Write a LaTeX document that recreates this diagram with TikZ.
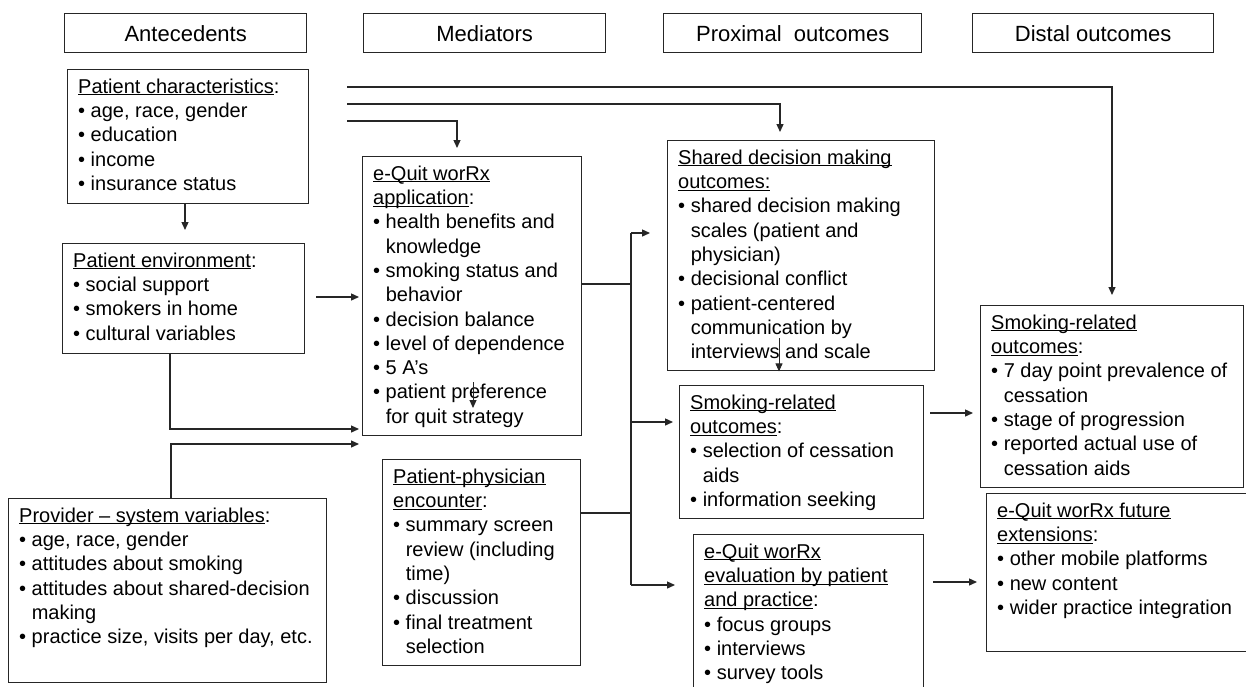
\documentclass[tikz,border=0pt]{standalone}
\usepackage{fontspec}
\setmainfont{Liberation Sans}
\usetikzlibrary{arrows.meta,calc}
\newcommand{\ct}{\phantom{•\ }}
\newcommand{\ul}[1]{\underline{\smash{#1}}}
\newcommand{\mkbox}[6]{%
  \node[boxst, minimum width=#4pt, minimum height=#5pt] (#1) at (#2,#3) {};
  \node[txtst] (#1t) at ($(#1.north west)+(11,7)$) {\strut#6};}
\begin{document}
\begin{tikzpicture}[x=1pt,y=-1pt,
  boxst/.style={draw=black!85, line width=1.4pt, anchor=north west, inner sep=0pt, fill=white},
  hdrst/.style={draw=black!85, line width=1.4pt, anchor=north west, inner sep=0pt,
     font=\fontsize{22}{26}\selectfont},
  txtst/.style={anchor=north west, inner sep=0pt, align=left, font=\fontsize{20}{24.3}\selectfont},
  arr/.style={draw=black!85, line width=1.3pt, -{Triangle[length=8pt,width=7pt]}},
  ln/.style={draw=black!85, line width=1.3pt}]
\useasboundingbox (0,0) rectangle (1246,686);
\clip (0,0) rectangle (1246,686);
\fill[white] (0,0) rectangle (1246,686);

% headers
\node[hdrst, minimum width=242pt, minimum height=39pt] (h1) at (64,13) {Antecedents};
\node[hdrst, minimum width=242pt, minimum height=39pt] (h2) at (363,13) {Mediators};
\node[hdrst, minimum width=258pt, minimum height=39pt] (h3) at (663,13) {Proximal\ \ outcomes};
\node[hdrst, minimum width=241pt, minimum height=39pt] (h4) at (972,13) {Distal outcomes};

% boxes
\mkbox{pc}{67}{69}{241}{134}{\ul{Patient characteristics}:\\
• age, race, gender\\ • education\\ • income\\ • insurance status}
\mkbox{pe}{62}{243}{242}{110}{\ul{Patient environment}:\\
• social support\\ • smokers in home\\ • cultural variables}
\mkbox{pv}{8}{498}{318}{184}{\ul{Provider -- system variables}:\\
• age, race, gender\\ • attitudes about smoking\\ • attitudes about shared-decision\\
\ct making\\ • practice size, visits per day, etc.}
\mkbox{eq}{362}{156}{219}{279}{\ul{e-Quit worRx}\\ \ul{application}:\\
• health benefits and\\ \ct knowledge\\ • smoking status and\\ \ct behavior\\
• decision balance\\ • level of dependence\\ • 5 A’s\\ • patient preference\\ \ct for quit strategy}
\mkbox{pp}{382}{459}{198}{206}{\ul{Patient-physician}\\ \ul{encounter}:\\
• summary screen\\ \ct review (including\\ \ct time)\\ • discussion\\ • final treatment\\ \ct selection}
\mkbox{sd}{667}{140}{267}{230}{\ul{Shared decision making}\\ \ul{outcomes:}\\
• shared decision making\\ \ct scales (patient and\\ \ct physician)\\ • decisional conflict\\
• patient-centered\\ \ct communication by\\ \ct interviews and scale}
\mkbox{sp}{679}{385}{244}{133}{\ul{Smoking-related}\\ \ul{outcomes}:\\
• selection of cessation\\ \ct aids\\ • information seeking}
\mkbox{ev}{693}{534}{230}{170}{\ul{e-Quit worRx}\\ \ul{evaluation by patient}\\ \ul{and practice}:\\
• focus groups\\ • interviews\\ • survey tools}
\mkbox{ds}{980}{305}{263}{182}{\ul{Smoking-related}\\ \ul{outcomes}:\\
• 7 day point prevalence of\\ \ct cessation\\ • stage of progression\\ • reported actual use of\\ \ct cessation aids}
\mkbox{fx}{986}{493}{270}{158}{\ul{e-Quit worRx future}\\ \ul{extensions}:\\
• other mobile platforms\\ • new content\\ • wider practice integration}

% free ends
\coordinate (s1) at (347,87);
\coordinate (s2) at (347,104);
\coordinate (s3) at (347,121);
\coordinate (s4) at (316,297);
\coordinate (e7) at (359,444);
\coordinate (bt) at (631,233);
\coordinate (bb) at (631,585);
\coordinate (s14) at (930,413);
\coordinate (s15) at (933,582);
\coordinate (a1) at (473,382);
\coordinate (a2) at (779,338);

% connectors
\draw[arr, shorten >=13pt] (pc.south -| 185,0) -- (pe.north -| 185,0);
\draw[arr, shorten >=10pt] (s1) -| (ds.north -| 1112,0);
\draw[arr, shorten >=8pt] (s2) -| (sd.north -| 780,0);
\draw[arr, shorten >=8pt] (s3) -| (eq.north -| 457,0);
\draw[arr, shorten >=3pt] (s4) -- (eq.west |- s4);
\draw[arr, shorten >=3pt] (pe.south -| 170,0) |- (eq.west |- 0,429);
\draw[arr] (pv.north -| 171,0) |- (e7);
\draw[ln] (eq.east |- 0,284) -- (631,284);
\draw[ln] (pp.east |- 0,513) -- (631,513);
\draw[ln] (bt) -- (bb);
\draw[arr, shorten >=17pt] (bt) -- (sd.west |- bt);
\draw[arr, shorten >=6pt] (631,422) -- (sp.west |- 0,422);
\draw[arr, shorten >=18pt] (bb) -- (ev.west |- bb);
\draw[arr, shorten >=7pt] (s14) -- (ds.west |- s14);
\draw[arr, shorten >=9pt] (s15) -- (fx.west |- s15);
\draw[arr, line width=1pt] (a1) -- (473,408);
\draw[arr, line width=1pt] (a2) -- (sd.south -| a2);
\end{tikzpicture}
\end{document}
